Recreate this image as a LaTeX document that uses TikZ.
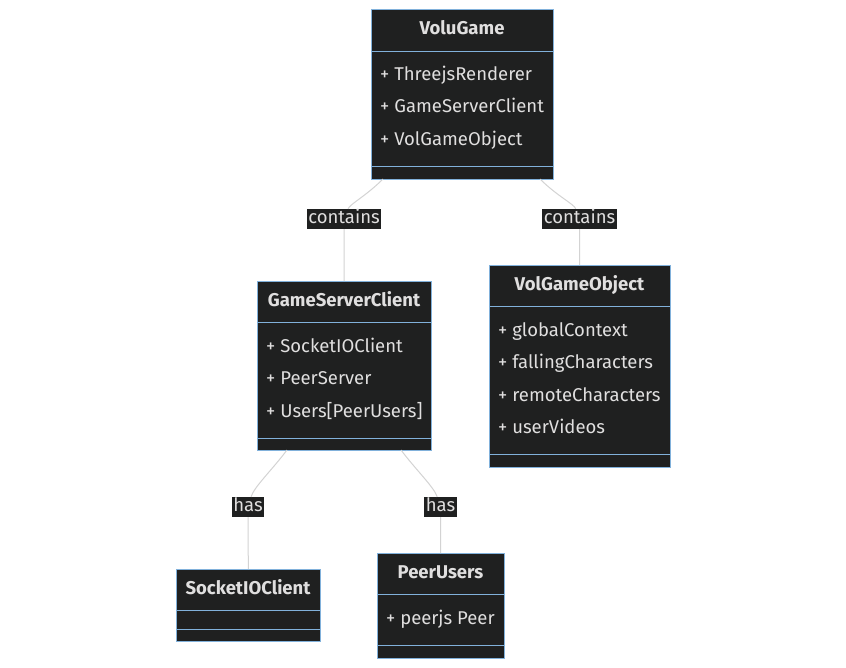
\documentclass[tikz,border=0pt]{standalone}
\usepackage{fontspec}
\setmainfont{Fira Sans}
\definecolor{boxfill}{HTML}{1F2020}
\definecolor{boxline}{HTML}{81B1DB}
\definecolor{txt}{HTML}{E0DFDF}
\definecolor{edgegray}{HTML}{D3D3D3}
\begin{document}
\begin{tikzpicture}[x=1pt,y=-1pt,
box/.style={draw=boxline,fill=boxfill,line width=1pt,anchor=north west,inner sep=0pt},
sepline/.style={draw=boxline,line width=1pt},
title/.style={text=txt,inner sep=0pt,text height=13pt,text depth=4pt,font=\bfseries\fontsize{18.5}{20}\selectfont},
attr/.style={text=txt,anchor=west,inner sep=0pt,text height=13pt,text depth=4pt,font=\fontsize{18.5}{20}\selectfont},
rel/.style={fill=boxfill,text=txt,inner sep=1.5pt,text height=13pt,text depth=4pt,font=\fontsize{18.5}{20}\selectfont},
edge/.style={draw=edgegray,line width=1pt}]
\useasboundingbox (0,0) rectangle (846,667);

% VoluGame
\node (vg) [box,minimum width=182pt,minimum height=170pt] at (371,9) {};
\node (vgt) [title] at (462,30) {VoluGame};
\draw [sepline] (371,51) -- (553,51);
\draw [sepline] (371,166) -- (553,166);
\node [attr] at (380,76) {+ ThreejsRenderer};
\node [attr] at (380,108) {+ GameServerClient};
\node [attr] at (380,141) {+ VolGameObject};

% GameServerClient
\node (gsc) [box,minimum width=174pt,minimum height=169pt] at (257,281) {};
\node (gsct) [title] at (344,302) {GameServerClient};
\draw [sepline] (257,322) -- (431,322);
\draw [sepline] (257,438) -- (431,438);
\node [attr] at (266,348) {+ SocketIOClient};
\node [attr] at (266,380) {+ PeerServer};
\node [attr] at (266,413) {+ Users[PeerUsers]};

% VolGameObject
\node (vgo) [box,minimum width=181pt,minimum height=202pt] at (489,265) {};
\node (vgot) [title] at (579.5,286) {VolGameObject};
\draw [sepline] (489,306) -- (670,306);
\draw [sepline] (489,454) -- (670,454);
\node [attr] at (498,332) {+ globalContext};
\node [attr] at (498,364) {+ fallingCharacters};
\node [attr] at (498,397) {+ remoteCharacters};
\node [attr] at (498,429) {+ userVideos};

% SocketIOClient
\node (soc) [box,minimum width=144pt,minimum height=72pt] at (176,569) {};
\node (soct) [title] at (248,590) {SocketIOClient};
\draw [sepline] (176,610) -- (320,610);
\draw [sepline] (176,629) -- (320,629);

% PeerUsers
\node (pu) [box,minimum width=127pt,minimum height=105pt] at (377,553) {};
\node (put) [title] at (440.5,574) {PeerUsers};
\draw [sepline] (377,594) -- (504,594);
\draw [sepline] (377,645) -- (504,645);
\node [attr] at (386,620) {+ peerjs Peer};

% relations
\coordinate (vg1) at (383,179);
\coordinate (vg2) at (540,179);
\coordinate (gsc1) at (287,450);
\coordinate (gsc2) at (401,450);
\node (c1) [rel] at (344,219) {contains};
\node (c2) [rel] at (579.5,219) {contains};
\node (h1) [rel] at (248,507) {has};
\node (h2) [rel] at (440.5,507) {has};

\draw [edge] (vg1) .. controls (366,196) and (350,204) .. (c1) -- (gsc);
\draw [edge] (vg2) .. controls (557,196) and (574,204) .. (c2) -- (vgo);
\draw [edge] (gsc1) .. controls (272,470) and (254,487) .. (h1) -- (soc);
\draw [edge] (gsc2) .. controls (416,470) and (434,487) .. (h2) -- (pu);
\end{tikzpicture}
\end{document}
